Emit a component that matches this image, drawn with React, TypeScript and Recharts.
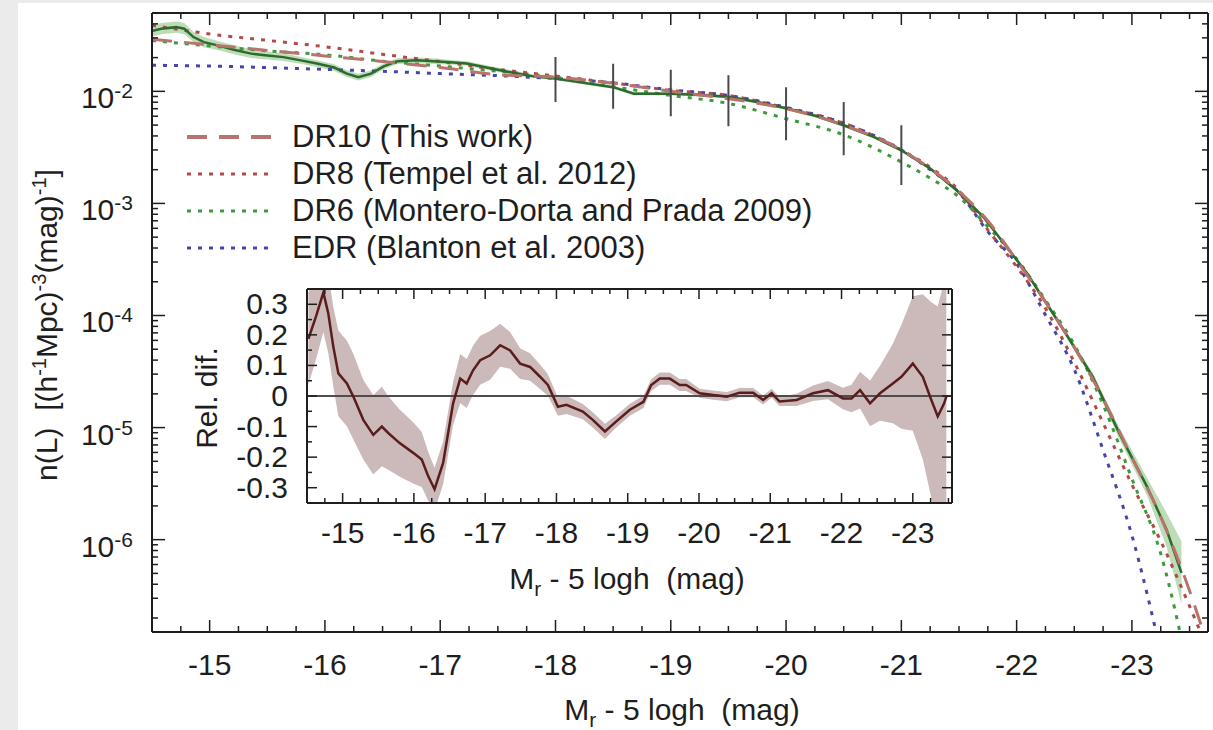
import { ComposedChart, Line, Area, XAxis, YAxis, ReferenceLine, Legend } from 'recharts';

const FONT = '"Liberation Sans", Arial, Helvetica, sans-serif';
const INK = '#1e1e1e';
const W = 1213;
const H = 730;

// measured luminosity function (green line + band)
const LF_MAG = [-14.49, -14.58, -14.71, -14.78, -14.86, -14.95, -15.07, -15.21, -15.36, -15.5, -15.64, -15.79, -15.93, -16.08, -16.19, -16.29, -16.4, -16.51, -16.63, -16.8, -16.94, -17.09, -17.23, -17.38, -17.52, -17.67, -17.81, -18.0, -18.13, -18.5, -18.68, -19.01, -19.31, -19.51, -19.75, -20.01, -20.27, -20.5, -20.76, -21.0, -21.25, -21.48, -21.71, -21.8, -22.09, -22.37, -22.66, -22.89, -23.13, -23.3, -23.43];
const LF_VALUE = [0.0344, 0.0362, 0.0374, 0.0362, 0.0305, 0.0275, 0.0257, 0.0235, 0.0217, 0.0209, 0.0202, 0.0189, 0.0177, 0.0163, 0.0144, 0.0134, 0.0144, 0.0167, 0.0186, 0.0189, 0.0186, 0.0182, 0.0177, 0.0165, 0.0154, 0.0144, 0.0136, 0.013, 0.0124, 0.0109, 0.00954, 0.00954, 0.00921, 0.0089, 0.00803, 0.00702, 0.00599, 0.00498, 0.00392, 0.00298, 0.00205, 0.00131, 0.00076, 0.000578, 0.000238, 0.0000852, 0.0000285, 0.00000893, 0.00000299, 0.00000123, 0.000000505];
const LF_ERR_DEX = [0.05, 0.05, 0.05, 0.05, 0.045, 0.045, 0.04, 0.04, 0.04, 0.035, 0.035, 0.03, 0.03, 0.03, 0.03, 0.03, 0.03, 0.025, 0.025, 0.025, 0.025, 0.02, 0.02, 0.02, 0.02, 0.02, 0.015, 0.015, 0.015, 0.015, 0.015, 0.015, 0.015, 0.015, 0.015, 0.015, 0.015, 0.015, 0.015, 0.015, 0.015, 0.015, 0.015, 0.015, 0.02, 0.025, 0.035, 0.05, 0.08, 0.15, 0.28];

// fitted functions
const FIT_MAG = [-14.5, -15, -15.5, -16, -16.5, -17, -17.5, -18, -18.5, -19, -19.5, -20, -20.5, -21, -21.25, -21.5, -21.75, -22, -22.25, -22.5, -22.75, -23, -23.25, -23.5, -23.65];
const DR10_FIT = [0.0291, 0.026, 0.0232, 0.0207, 0.0185, 0.0163, 0.0141, 0.0134, 0.0118, 0.01, 0.0086, 0.007, 0.005, 0.003, 0.00205, 0.00128, 0.0007, 0.00031, 0.000132, 0.000052, 0.0000181, 0.0000054, 0.0000016, 0.00000035, 0.00000012];
const DR8_FIT = [0.0388, 0.0325, 0.0285, 0.025, 0.0214, 0.0184, 0.0157, 0.0137, 0.0119, 0.0102, 0.0092, 0.0071, 0.0052, 0.003, 0.0021, 0.0013, 0.00058, 0.000273, 0.000116, 0.0000383, 0.000011, 0.0000031, 0.00000097, 0.000000255, 0.00000011];
const DR6_FIT = [0.0284, 0.0254, 0.023, 0.0212, 0.0186, 0.0168, 0.0151, 0.0134, 0.011, 0.0092, 0.0078, 0.0057, 0.0041, 0.00234, 0.00168, 0.00114, 0.00062, 0.00032, 0.000137, 0.000055, 0.000016, 0.0000035, 0.00000075, 0.00000006, null];
const EDR_FIT = [0.0171, 0.0168, 0.0163, 0.0157, 0.0151, 0.0144, 0.0138, 0.013, 0.0119, 0.0103, 0.0092, 0.0072, 0.0052, 0.003, 0.002, 0.00125, 0.00056, 0.00029, 0.000101, 0.000033, 0.0000063, 0.00000109, 0.0000001, null, null];

// error bars on the measured function
const BAR_MAG = [-18, -18.5, -19, -19.5, -20, -20.5, -21];
const BAR_LOW = [0.00803, 0.00701, 0.00598, 0.00488, 0.00366, 0.00269, 0.00146];
const BAR_HIGH = [0.0202, 0.01766, 0.0156, 0.0139, 0.0109, 0.00803, 0.00498];

// inset: relative difference
const REL_MAG = [-14.52, -14.63, -14.73, -14.8, -14.87, -14.94, -15.06, -15.15, -15.29, -15.43, -15.55, -15.64, -15.8, -15.99, -16.11, -16.2, -16.29, -16.41, -16.55, -16.65, -16.74, -16.83, -16.93, -17.07, -17.21, -17.35, -17.49, -17.63, -17.77, -17.88, -18.02, -18.14, -18.37, -18.51, -18.68, -18.84, -19.03, -19.22, -19.33, -19.45, -19.59, -19.73, -19.82, -20.01, -20.2, -20.39, -20.57, -20.76, -20.9, -21.02, -21.13, -21.37, -21.6, -21.81, -22.02, -22.14, -22.26, -22.4, -22.54, -22.72, -22.84, -23.0, -23.14, -23.26, -23.35, -23.44, -23.47];
const REL_VALUE = [0.187, 0.263, 0.339, 0.268, 0.16, 0.074, 0.041, -0.002, -0.078, -0.127, -0.1, -0.121, -0.154, -0.186, -0.208, -0.262, -0.305, -0.219, -0.024, 0.057, 0.041, 0.084, 0.117, 0.133, 0.166, 0.149, 0.106, 0.095, 0.063, 0.036, -0.035, -0.029, -0.051, -0.078, -0.116, -0.083, -0.045, -0.019, 0.036, 0.057, 0.057, 0.036, 0.036, 0.009, 0.003, -0.002, 0.011, 0.011, -0.013, 0.009, -0.018, -0.013, 0.009, 0.019, -0.008, -0.008, 0.019, -0.024, 0.009, 0.041, 0.063, 0.106, 0.063, -0.013, -0.067, -0.024, -0.002];
const REL_ERR = [0.15, 0.14, 0.13, 0.13, 0.13, 0.14, 0.14, 0.14, 0.13, 0.13, 0.13, 0.12, 0.11, 0.1, 0.09, 0.08, 0.07, 0.07, 0.07, 0.08, 0.08, 0.08, 0.08, 0.08, 0.07, 0.06, 0.05, 0.045, 0.04, 0.035, 0.03, 0.03, 0.025, 0.025, 0.025, 0.02, 0.02, 0.02, 0.02, 0.02, 0.02, 0.02, 0.02, 0.015, 0.015, 0.015, 0.015, 0.015, 0.015, 0.015, 0.015, 0.02, 0.025, 0.03, 0.035, 0.045, 0.06, 0.075, 0.09, 0.13, 0.17, 0.22, 0.27, 0.32, 0.36, 0.4, 0.42];

const MAG_LABELS = [-15, -16, -17, -18, -19, -20, -21, -22, -23];
const MAIN_Y_DECADES = [1e-2, 1e-3, 1e-4, 1e-5, 1e-6];
const INSET_Y_LABELS = [0.3, 0.2, 0.1, 0, -0.1, -0.2, -0.3];

const LEGEND_ITEMS = [
  { label: 'DR10 (This work)', color: '#b8736c', dash: '20 12' },
  { label: 'DR8 (Tempel et al. 2012)', color: '#b44a48', dash: '4 7' },
  { label: 'DR6 (Montero-Dorta and Prada 2009)', color: '#3d9a3d', dash: '4 7' },
  { label: 'EDR (Blanton et al. 2003)', color: '#4646aa', dash: '4 7' },
];

const MAIN_X_DOMAIN = [-23.66, -14.5];
const MAIN_Y_DOMAIN = [1.5e-7, 0.05];
const INSET_X_DOMAIN = [-23.55, -14.5];
const INSET_Y_DOMAIN = [-0.35, 0.35];

const lfData = LF_MAG.map((m, i) => ({
  m,
  v: LF_VALUE[i],
  band: [LF_VALUE[i] / Math.pow(10, LF_ERR_DEX[i]), LF_VALUE[i] * Math.pow(10, LF_ERR_DEX[i])],
}));
const fitData = (vals: (number | null)[]) => FIT_MAG.map((m, i) => ({ m, v: vals[i] }));
const barData = BAR_MAG.flatMap((m, i) => [
  { m, v: BAR_LOW[i] },
  { m, v: BAR_HIGH[i] },
  { m, v: null },
]);
const relData = REL_MAG.map((m, i) => ({ m, v: REL_VALUE[i], band: [REL_VALUE[i] - REL_ERR[i], REL_VALUE[i] + REL_ERR[i]] }));

// tick positions (quarter magnitudes, log minors)
const quarterTicks: number[] = [];
for (let k = -58; k >= -94; k--) quarterTicks.push(k / 4);
const logTicks: number[] = [];
for (let e = -7; e <= -2; e++) {
  for (let k = 1; k <= 9; k++) {
    const v = k * Math.pow(10, e);
    if (v >= MAIN_Y_DOMAIN[0] && v <= MAIN_Y_DOMAIN[1]) logTicks.push(v);
  }
}
const relTicks: number[] = [];
for (let k = -6; k <= 6; k++) relTicks.push(k / 20);

const isDecade = (v: number) => MAIN_Y_DECADES.some((d) => Math.abs(v / d - 1) < 1e-6) || Math.abs(Math.log10(v) - Math.round(Math.log10(v))) < 1e-6;
const isWhole = (v: number) => Math.abs(v - Math.round(v)) < 1e-6;
const isTenth = (v: number) => Math.abs(v * 10 - Math.round(v * 10)) < 1e-6;

const textProps = { fontFamily: FONT, fill: INK };

function MainLeftTick({ x, y, payload }: any) {
  const v = payload.value as number;
  const major = isDecade(v);
  const showLabel = MAIN_Y_DECADES.some((d) => Math.abs(v / d - 1) < 1e-6);
  return (
    <g>
      <line x1={x} y1={y} x2={x + (major ? 13 : 6)} y2={y} stroke={INK} strokeWidth={1.5} />
      {showLabel && (
        <text x={x - 19} y={y + 17} textAnchor="end" fontSize={30} {...textProps}>
          10<tspan dy={-10} fontSize={21}>{Math.round(Math.log10(v))}</tspan>
        </text>
      )}
    </g>
  );
}

function MainRightTick({ x, y, payload }: any) {
  const major = isDecade(payload.value);
  return <line x1={x} y1={y} x2={x - (major ? 13 : 6)} y2={y} stroke={INK} strokeWidth={1.5} />;
}

function MainBottomTick({ x, y, payload }: any) {
  const v = payload.value as number;
  const major = isWhole(v);
  return (
    <g>
      <line x1={x} y1={y} x2={x} y2={y - (major ? 12 : 6)} stroke={INK} strokeWidth={1.5} />
      {major && MAG_LABELS.includes(Math.round(v)) && (
        <text x={x} y={y + 43} textAnchor="middle" fontSize={30} {...textProps}>{Math.round(v)}</text>
      )}
    </g>
  );
}

function MainTopTick({ x, y, payload }: any) {
  const major = isWhole(payload.value);
  return <line x1={x} y1={y} x2={x} y2={y + (major ? 12 : 6)} stroke={INK} strokeWidth={1.5} />;
}

function InsetLeftTick({ x, y, payload }: any) {
  const v = payload.value as number;
  const major = isTenth(v);
  const label = Math.abs(v) < 1e-9 ? '0' : v.toFixed(1);
  return (
    <g>
      <line x1={x} y1={y} x2={x + (major ? 10 : 5)} y2={y} stroke={INK} strokeWidth={1.5} />
      {major && INSET_Y_LABELS.some((l) => Math.abs(l - v) < 1e-9) && (
        <text x={x - 19} y={y + 10} textAnchor="end" fontSize={30} {...textProps}>{label}</text>
      )}
    </g>
  );
}

function InsetRightTick({ x, y, payload }: any) {
  const major = isTenth(payload.value);
  return <line x1={x} y1={y} x2={x - (major ? 10 : 5)} y2={y} stroke={INK} strokeWidth={1.5} />;
}

function InsetBottomTick({ x, y, payload }: any) {
  const v = payload.value as number;
  const major = isWhole(v);
  return (
    <g>
      <line x1={x} y1={y} x2={x} y2={y - (major ? 10 : 5)} stroke={INK} strokeWidth={1.5} />
      {major && MAG_LABELS.includes(Math.round(v)) && (
        <text x={x} y={y + 40} textAnchor="middle" fontSize={30} {...textProps}>{Math.round(v)}</text>
      )}
    </g>
  );
}

function InsetTopTick({ x, y, payload }: any) {
  const major = isWhole(payload.value);
  return <line x1={x} y1={y} x2={x} y2={y + (major ? 10 : 5)} stroke={INK} strokeWidth={1.5} />;
}

const magTitle = (cx: number, baseline: number) => (
  <text x={cx} y={baseline} textAnchor="middle" fontSize={30} style={{ whiteSpace: 'pre' }} {...textProps}>
    M<tspan dy={7} fontSize={21}>r</tspan>
    <tspan dy={-7}>{' - 5 logh  (mag)'}</tspan>
  </text>
);

const mainYTitle = (
  <text transform="translate(57,325) rotate(-90)" textAnchor="middle" fontSize={30} style={{ whiteSpace: 'pre' }} {...textProps}>
    {'n(L)  [(h'}
    <tspan dy={-11} fontSize={20}>-1</tspan>
    <tspan dy={11}>Mpc)</tspan>
    <tspan dy={-11} fontSize={20}>-3</tspan>
    <tspan dy={11}>(mag)</tspan>
    <tspan dy={-11} fontSize={20}>-1</tspan>
    <tspan dy={11}>]</tspan>
  </text>
);

const relTitle = (
  <text transform="translate(217,398) rotate(-90)" textAnchor="middle" fontSize={30} {...textProps}>
    Rel. dif.
  </text>
);

function LegendBox() {
  return (
    <div style={{ fontFamily: FONT, fontSize: 31, color: INK }}>
      {LEGEND_ITEMS.map((item) => (
        <div key={item.label} style={{ display: 'flex', alignItems: 'center', height: 37 }}>
          <svg width={88} height={10} style={{ flex: 'none' }}>
            <line x1={0} y1={5} x2={88} y2={5} stroke={item.color} strokeWidth={item.dash === '4 7' ? 3 : 4} strokeDasharray={item.dash} />
          </svg>
          <span style={{ marginLeft: 17, whiteSpace: 'nowrap', lineHeight: '37px' }}>{item.label}</span>
        </div>
      ))}
    </div>
  );
}

const frame = { stroke: INK, strokeWidth: 2 };

export default function App() {
  return (
    <div style={{ position: 'absolute', left: 0, top: 0, width: W, height: H, background: '#ebebeb', overflow: 'hidden' }}>
      <div style={{ position: 'absolute', left: 18, top: 3, width: W - 18, height: H - 3, background: '#ffffff' }} />

      <div style={{ position: 'absolute', left: 0, top: 0 }}>
        <ComposedChart width={W} height={H} margin={{ top: 12, right: 4, bottom: 97, left: 151 }}>
          <XAxis
            type="number"
            dataKey="m"
            domain={MAIN_X_DOMAIN}
            reversed
            allowDataOverflow
            ticks={quarterTicks}
            interval={0}
            height={1}
            tickSize={0}
            tickMargin={0}
            tick={MainBottomTick}
            axisLine={frame}
            label={{ content: () => magTitle(682, 720) }}
          />
          <XAxis
            xAxisId="t"
            orientation="top"
            type="number"
            dataKey="m"
            domain={MAIN_X_DOMAIN}
            reversed
            allowDataOverflow
            ticks={quarterTicks}
            interval={0}
            height={1}
            tickSize={0}
            tickMargin={0}
            tick={MainTopTick}
            axisLine={frame}
          />
          <YAxis
            type="number"
            scale="log"
            domain={MAIN_Y_DOMAIN}
            allowDataOverflow
            ticks={logTicks}
            interval={0}
            width={1}
            tickSize={0}
            tickMargin={0}
            tick={MainLeftTick}
            axisLine={frame}
            label={{ content: () => mainYTitle }}
          />
          <YAxis
            yAxisId="r"
            orientation="right"
            type="number"
            scale="log"
            domain={MAIN_Y_DOMAIN}
            allowDataOverflow
            ticks={logTicks}
            interval={0}
            width={1}
            tickSize={0}
            tickMargin={0}
            tick={MainRightTick}
            axisLine={frame}
          />
          <Area data={lfData} dataKey="band" type="linear" stroke="none" fill="#a6d29f" fillOpacity={0.75} isAnimationActive={false} />
          <Line data={fitData(EDR_FIT)} dataKey="v" type="monotone" stroke="#4646aa" strokeWidth={3} strokeDasharray="4 7" dot={false} isAnimationActive={false} />
          <Line data={fitData(DR6_FIT)} dataKey="v" type="monotone" stroke="#3d9a3d" strokeWidth={3} strokeDasharray="4 7" dot={false} isAnimationActive={false} />
          <Line data={fitData(DR8_FIT)} dataKey="v" type="monotone" stroke="#b44a48" strokeWidth={3} strokeDasharray="4 7" dot={false} isAnimationActive={false} />
          <Line data={lfData} dataKey="v" type="linear" stroke="#2d6a2d" strokeWidth={2.5} dot={false} isAnimationActive={false} />
          <Line data={fitData(DR10_FIT)} dataKey="v" type="monotone" stroke="#b8736c" strokeWidth={3} strokeDasharray="20 12" dot={false} isAnimationActive={false} />
          <Line data={barData} dataKey="v" type="linear" stroke="#4a4a4a" strokeWidth={2} dot={false} isAnimationActive={false} />
          <Legend
            layout="vertical"
            align="center"
            verticalAlign="middle"
            content={() => <LegendBox />}
            wrapperStyle={{ left: 187, top: 118, width: 640, height: 150 }}
          />
        </ComposedChart>
      </div>

      <div style={{ position: 'absolute', left: 0, top: 0 }}>
        <ComposedChart width={W} height={H} margin={{ top: 288, right: 260, bottom: 226, left: 306 }}>
          <XAxis
            type="number"
            dataKey="m"
            domain={INSET_X_DOMAIN}
            reversed
            allowDataOverflow
            ticks={quarterTicks}
            interval={0}
            height={1}
            tickSize={0}
            tickMargin={0}
            tick={InsetBottomTick}
            axisLine={frame}
            label={{ content: () => magTitle(627, 589) }}
          />
          <XAxis
            xAxisId="t"
            orientation="top"
            type="number"
            dataKey="m"
            domain={INSET_X_DOMAIN}
            reversed
            allowDataOverflow
            ticks={quarterTicks}
            interval={0}
            height={1}
            tickSize={0}
            tickMargin={0}
            tick={InsetTopTick}
            axisLine={frame}
          />
          <YAxis
            type="number"
            domain={INSET_Y_DOMAIN}
            allowDataOverflow
            ticks={relTicks}
            interval={0}
            width={1}
            tickSize={0}
            tickMargin={0}
            tick={InsetLeftTick}
            axisLine={frame}
            label={{ content: () => relTitle }}
          />
          <YAxis
            yAxisId="r"
            orientation="right"
            type="number"
            domain={INSET_Y_DOMAIN}
            allowDataOverflow
            ticks={relTicks}
            interval={0}
            width={1}
            tickSize={0}
            tickMargin={0}
            tick={InsetRightTick}
            axisLine={frame}
          />
          <Area data={relData} dataKey="band" type="linear" stroke="none" fill="#c7b3b3" fillOpacity={0.9} isAnimationActive={false} />
          <ReferenceLine y={0} stroke="#4d4d4d" strokeWidth={2} />
          <Line data={relData} dataKey="v" type="linear" stroke="#5a1c1c" strokeWidth={2.5} dot={false} isAnimationActive={false} />
        </ComposedChart>
      </div>
    </div>
  );
}
